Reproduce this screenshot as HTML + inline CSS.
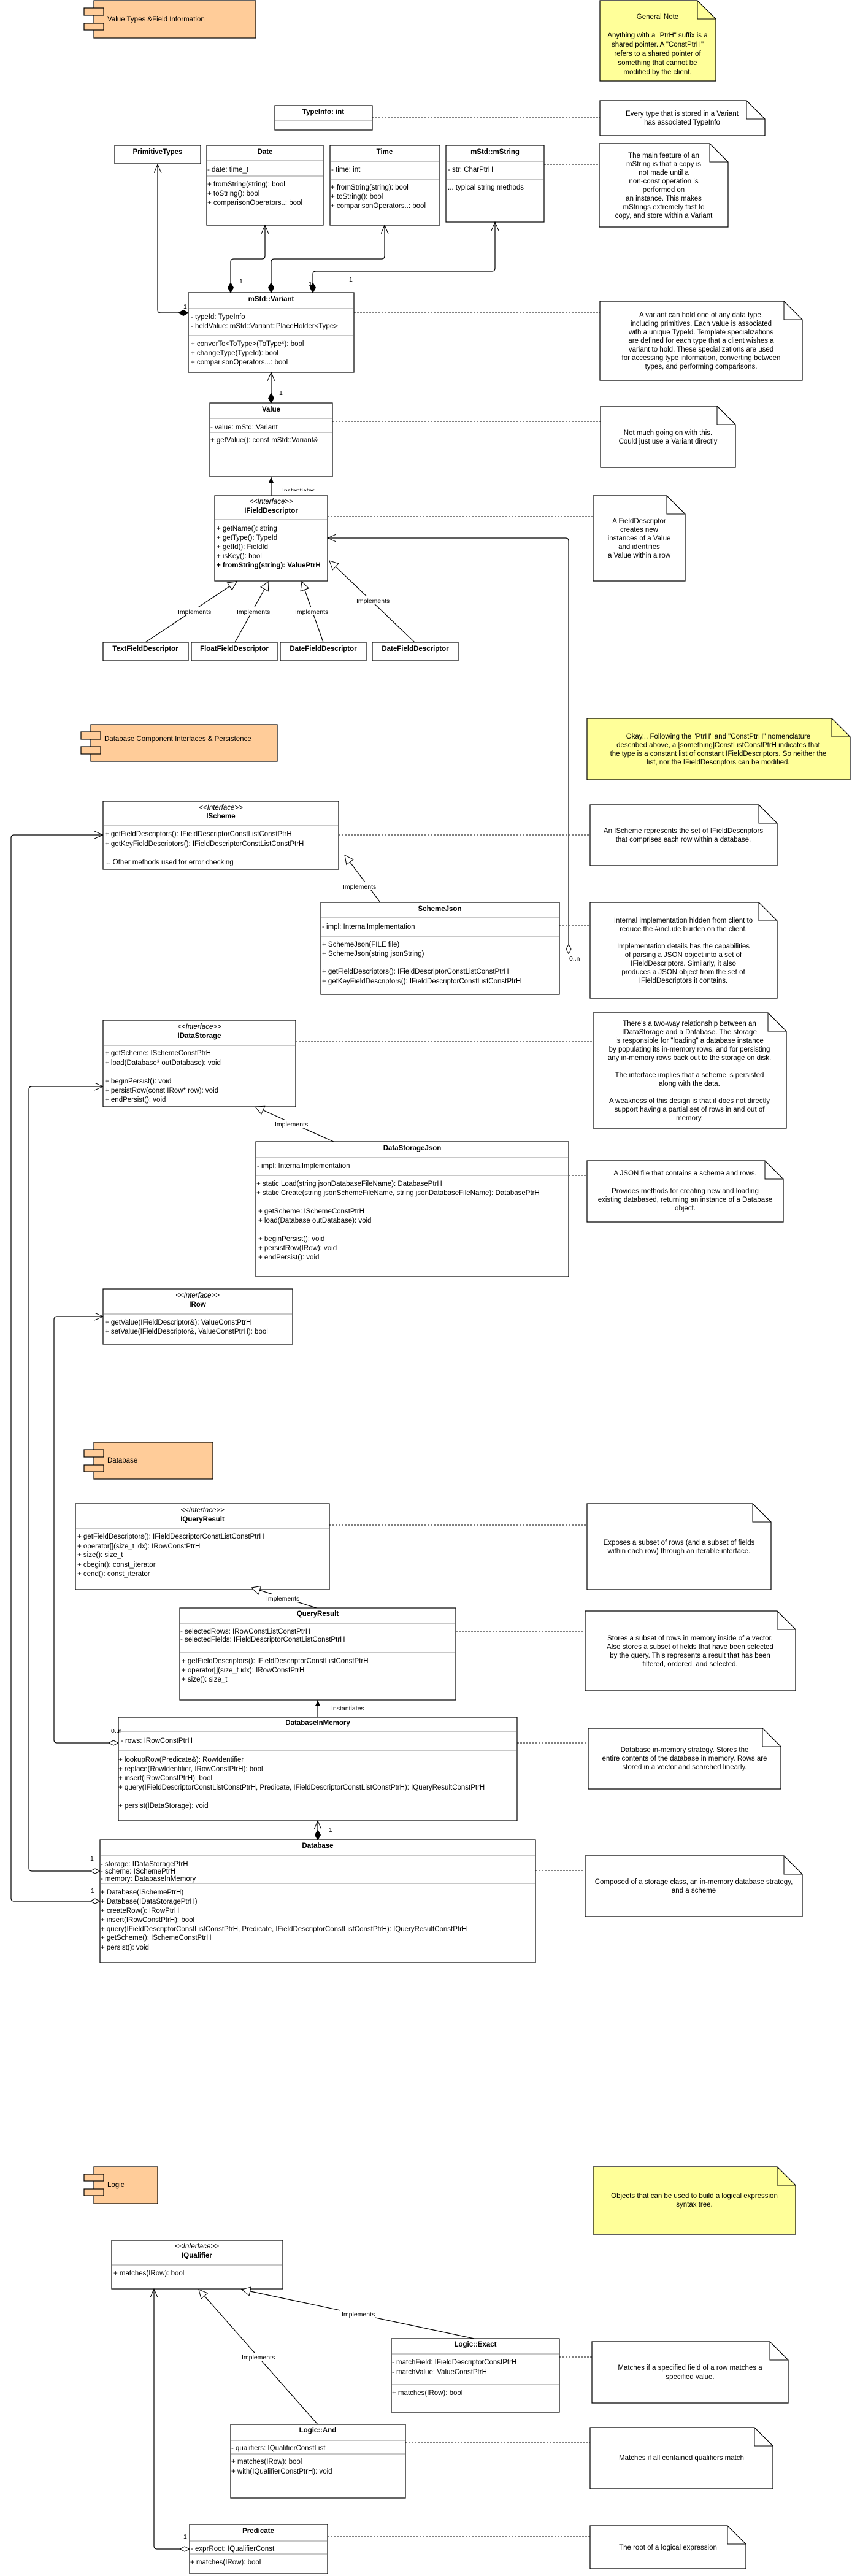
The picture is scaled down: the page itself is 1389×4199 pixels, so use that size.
<!DOCTYPE html>
<html><head><meta charset="utf-8"><style>
html,body{margin:0;padding:0;background:#fff;}
svg{display:block;font-family:"Liberation Sans",Arial,sans-serif;font-size:11.5px;}
.b{fill:#fff;stroke:#000;stroke-width:1.2}
.s{stroke:#c8c8c8;stroke-width:2}
.t{font-weight:bold;text-anchor:middle}
.c{text-anchor:middle}
.i{font-style:italic;text-anchor:middle}
.n{fill:#fff;stroke:#000;stroke-width:1.2}
.y{fill:#ffff99;stroke:#000;stroke-width:1.2}
.f{fill:none;stroke:#000;stroke-width:1}
.d{stroke:#000;stroke-width:1;stroke-dasharray:3,2;fill:none}
.l{fill:none;stroke:#000;stroke-width:1.2}
.o{fill:#ffcc99;stroke:#000;stroke-width:1.2}
.sm{font-size:10.5px}
</style></head><body>
<svg width="1389" height="4199" viewBox="0 0 1389 4199" xmlns="http://www.w3.org/2000/svg">
<defs>
<marker id="open" markerUnits="userSpaceOnUse" markerWidth="16" markerHeight="14" refX="14" refY="6" orient="auto"><path d="M0,0 L14,6 L0,12" fill="none" stroke="#000" stroke-width="1"/></marker>
<marker id="tri" markerUnits="userSpaceOnUse" markerWidth="18" markerHeight="18" refX="15" refY="8" orient="auto"><path d="M1,1 L15,8 L1,15 z" fill="#fff" stroke="#000" stroke-width="1"/></marker>
<marker id="ft" markerUnits="userSpaceOnUse" markerWidth="12" markerHeight="10" refX="10" refY="4" orient="auto"><path d="M0,0 L10,4 L0,8 z" fill="#000"/></marker>
<marker id="dia" markerUnits="userSpaceOnUse" markerWidth="18" markerHeight="12" refX="0" refY="5" orient="auto"><path d="M0,5 L8,0.5 L16,5 L8,9.5 z" fill="#000" stroke="#000"/></marker>
<marker id="odia" markerUnits="userSpaceOnUse" markerWidth="18" markerHeight="12" refX="0" refY="5" orient="auto"><path d="M0.5,5 L8,1 L15.5,5 L8,9 z" fill="#fff" stroke="#000"/></marker>
</defs>

<!-- Component: Value Types -->
<rect class="o" x="153" y="1" width="264" height="61"/>
<rect class="o" x="137" y="13" width="32" height="12"/>
<rect class="o" x="137" y="38" width="32" height="11"/>
<text x="175" y="35">Value Types &amp;Field Information</text>

<!-- General Note -->
<path class="y" d="M978,1 H1137 L1167,31 V132 H978 Z"/><path class="f" d="M1137,1 V31 H1167"/>
<g class="c"><text x="1072" y="31">General Note</text>
<text x="1072" y="61">Anything with a "PtrH" suffix is a</text>
<text x="1072" y="76">shared pointer. A "ConstPtrH"</text>
<text x="1072" y="91">refers to a shared pointer of</text>
<text x="1072" y="106">something that cannot be</text>
<text x="1072" y="121">modified by the client.</text></g>

<!-- TypeInfo -->
<rect class="b" x="448" y="172" width="159" height="40"/><line class="s" x1="449" y1="197" x2="606" y2="197"/>
<text class="t" x="527" y="186">TypeInfo: int</text>
<line class="d" x1="607" y1="192" x2="978" y2="192"/>
<path class="n" d="M978,164 H1217 L1247,194 V221 H978 Z"/><path class="f" d="M1217,164 V194 H1247"/>
<text class="c" x="1112" y="189">Every type that is stored in a Variant</text>
<text class="c" x="1112" y="203">has associated TypeInfo</text>

<!-- PrimitiveTypes -->
<rect class="b" x="187" y="237" width="140" height="30"/>
<text class="t" x="257" y="251">PrimitiveTypes</text>

<!-- Date -->
<rect class="b" x="337" y="237" width="190" height="130"/>
<line class="s" x1="338" y1="262" x2="526" y2="262"/><line class="s" x1="338" y1="287" x2="526" y2="287"/>
<text class="t" x="432" y="251">Date</text>
<text x="338" y="280">- date: time_t</text>
<text x="338" y="304">+ fromString(string): bool</text>
<text x="338" y="319">+ toString(): bool</text>
<text x="338" y="334">+ comparisonOperators..: bool</text>

<!-- Time -->
<rect class="b" x="538" y="237" width="179" height="130"/>
<line class="s" x1="539" y1="263" x2="716" y2="263"/><line class="s" x1="539" y1="292" x2="716" y2="292"/>
<text class="t" x="627" y="251">Time</text>
<text x="540" y="280">- time: int</text>
<text x="539" y="309">+ fromString(string): bool</text>
<text x="539" y="324">+ toString(): bool</text>
<text x="539" y="339">+ comparisonOperators..: bool</text>

<!-- mString -->
<rect class="b" x="727" y="237" width="160" height="125"/>
<line class="s" x1="728" y1="263" x2="886" y2="263"/><line class="s" x1="728" y1="292" x2="886" y2="292"/>
<text class="t" x="807" y="251">mStd::mString</text>
<text x="730" y="280">- str: CharPtrH</text>
<text x="730" y="309">... typical string methods</text>
<line class="d" x1="887" y1="268" x2="977" y2="268"/>
<path class="n" d="M977,234 H1157 L1187,264 V370 H977 Z"/><path class="f" d="M1157,234 V264 H1187"/>
<g class="c"><text x="1082" y="257">The main feature of an</text>
<text x="1082" y="271">mString is that a copy is</text>
<text x="1082" y="285">not made until a</text>
<text x="1082" y="299">non-const operation is</text>
<text x="1082" y="313">performed on</text>
<text x="1082" y="327">an instance. This makes</text>
<text x="1082" y="341">mStrings extremely fast to</text>
<text x="1082" y="355">copy, and store within a Variant</text></g>

<!-- connectors to Variant -->
<path class="l" d="M307,510 H262 Q257,510 257,505 V268" marker-start="url(#dia)" marker-end="url(#open)"/>
<path class="l" d="M376,477 V427 Q376,422 381,422 H427 Q432,422 432,417 V367" marker-start="url(#dia)" marker-end="url(#open)"/>
<path class="l" d="M442,477 V427 Q442,422 447,422 H622 Q627,422 627,417 V367" marker-start="url(#dia)" marker-end="url(#open)"/>
<path class="l" d="M510,477 V447 Q510,442 515,442 H802 Q807,442 807,437 V362" marker-start="url(#dia)" marker-end="url(#open)"/>
<g class="sm"><text x="299" y="503">1</text><text x="390" y="462">1</text><text x="503" y="466">1</text><text x="569" y="459">1</text></g>

<!-- Variant -->
<rect class="b" x="307" y="477" width="270" height="130"/>
<line class="s" x1="308" y1="503" x2="576" y2="503"/><line class="s" x1="308" y1="547" x2="576" y2="547"/>
<text class="t" x="442" y="491">mStd::Variant</text>
<text x="311" y="520">- typeId: TypeInfo</text>
<text x="311" y="535">- heldValue: mStd::Variant::PlaceHolder&lt;Type&gt;</text>
<text x="311" y="564">+ converTo&lt;ToType&gt;(ToType*): bool</text>
<text x="311" y="579">+ changeType(TypeId): bool</text>
<text x="311" y="594">+ comparisonOperators...: bool</text>
<line class="d" x1="577" y1="510" x2="978" y2="510"/>
<path class="n" d="M978,491 H1278 L1308,521 V620 H978 Z"/><path class="f" d="M1278,491 V521 H1308"/>
<g class="c"><text x="1143" y="517">A variant can hold one of any data type,</text>
<text x="1143" y="531">including primitives. Each value is associated</text>
<text x="1143" y="545">with a unique TypeId. Template specializations</text>
<text x="1143" y="559">are defined for each type that a client wishes a</text>
<text x="1143" y="573">variant to hold. These specializations are used</text>
<text x="1143" y="587">for accessing type information, converting between</text>
<text x="1143" y="601">types, and performing comparisons.</text></g>

<!-- Value -->
<path class="l" d="M442,657 V607" marker-start="url(#dia)" marker-end="url(#open)"/>
<text class="sm" x="455" y="644">1</text>
<rect class="b" x="342" y="657" width="200" height="120"/>
<line class="s" x1="343" y1="682" x2="541" y2="682"/><line class="s" x1="343" y1="705" x2="541" y2="705"/>
<text class="t" x="442" y="671">Value</text>
<text x="343" y="700">- value: mStd::Variant</text>
<text x="343" y="721">+ getValue(): const mStd::Variant&amp;</text>
<line class="d" x1="542" y1="687" x2="979" y2="687"/>
<path class="n" d="M979,662 H1169 L1199,692 V762 H979 Z"/><path class="f" d="M1169,662 V692 H1199"/>
<text class="c" x="1089" y="709">Not much going on with this.</text>
<text class="c" x="1089" y="723">Could just use a Variant directly</text>

<!-- Instantiates -->
<path class="l" d="M442,808 V777" marker-end="url(#ft)"/>
<rect x="458" y="792" width="58" height="14" fill="#fff"/>
<text class="sm" x="460" y="803">Instantiates</text>

<!-- IFieldDescriptor -->
<rect class="b" x="350" y="808" width="184" height="139"/>
<rect x="458" y="801" width="58" height="6" fill="#fff"/>
<line class="s" x1="351" y1="847" x2="533" y2="847"/>
<text class="i" x="442" y="821">&lt;&lt;Interface&gt;&gt;</text>
<text class="t" x="442" y="836">IFieldDescriptor</text>
<text x="353" y="865">+ getName(): string</text>
<text x="353" y="880">+ getType(): TypeId</text>
<text x="353" y="895">+ getId(): FieldId</text>
<text x="353" y="910">+ isKey(): bool</text>
<text x="353" y="925" font-weight="bold">+ fromString(string): ValuePtrH</text>
<line class="d" x1="534" y1="842" x2="967" y2="842"/>
<path class="n" d="M967,808 H1087 L1117,838 V947 H967 Z"/><path class="f" d="M1087,808 V838 H1117"/>
<g class="c"><text x="1042" y="853">A FieldDescriptor</text>
<text x="1042" y="867">creates new</text>
<text x="1042" y="881">instances of a Value</text>
<text x="1042" y="895">and identifies</text>
<text x="1042" y="909">a Value within a row</text></g>

<!-- Implementations of IFD -->
<path class="l" d="M237,1047 L386,948" marker-end="url(#tri)"/>
<path class="l" d="M383,1047 L438,948" marker-end="url(#tri)"/>
<path class="l" d="M527,1047 L492,948" marker-end="url(#tri)"/>
<path class="l" d="M676,1047 L537,914" marker-end="url(#tri)"/>
<g class="sm"><rect x="288" y="990" width="56" height="13" fill="#fff"/><text x="290" y="1001">Implements</text>
<rect x="384" y="990" width="56" height="13" fill="#fff"/><text x="386" y="1001">Implements</text>
<rect x="479" y="990" width="56" height="13" fill="#fff"/><text x="481" y="1001">Implements</text>
<rect x="579" y="972" width="56" height="13" fill="#fff"/><text x="581" y="983">Implements</text></g>
<rect class="b" x="168" y="1047" width="139" height="30"/><text class="t" x="237" y="1061">TextFieldDescriptor</text>
<rect class="b" x="312" y="1047" width="140" height="30"/><text class="t" x="382" y="1061">FloatFieldDescriptor</text>
<rect class="b" x="457" y="1047" width="140" height="30"/><text class="t" x="527" y="1061">DateFieldDescriptor</text>
<rect class="b" x="607" y="1047" width="140" height="30"/><text class="t" x="677" y="1061">DateFieldDescriptor</text>

<!-- Component DB Interfaces -->
<rect class="o" x="148" y="1181" width="304" height="60"/>
<rect class="o" x="132" y="1193" width="32" height="12"/>
<rect class="o" x="132" y="1217" width="32" height="12"/>
<text x="170" y="1208">Database Component Interfaces &amp; Persistence</text>
<path class="y" d="M957,1171 H1356 L1386,1201 V1271 H957 Z"/><path class="f" d="M1356,1171 V1201 H1386"/>
<g class="c"><text x="1171" y="1204">Okay... Following the "PtrH" and "ConstPtrH" nomenclature</text>
<text x="1171" y="1218">described above, a [something]ConstListConstPtrH indicates that</text>
<text x="1171" y="1232">the type is a constant list of constant IFieldDescriptors. So neither the</text>
<text x="1171" y="1246">list, nor the IFieldDescriptors can be modified.</text></g>

<!-- long left connectors -->
<path class="l" d="M163,3099 H23 Q18,3099 18,3094 V1366 Q18,1361 23,1361 H168" marker-start="url(#odia)" marker-end="url(#open)"/>
<path class="l" d="M163,3050 H52 Q47,3050 47,3045 V1776 Q47,1771 52,1771 H168" marker-start="url(#odia)" marker-end="url(#open)"/>
<path class="l" d="M193,2841 H93 Q88,2841 88,2836 V2151 Q88,2146 93,2146 H168" marker-start="url(#odia)" marker-end="url(#open)"/>
<path class="l" d="M927,1555 V882 Q927,877 922,877 H534" marker-start="url(#odia)" marker-end="url(#open)"/>
<text class="sm" x="928" y="1566">0..n</text>

<!-- IScheme -->
<rect class="b" x="168" y="1306" width="384" height="111"/>
<line class="s" x1="169" y1="1346" x2="551" y2="1346"/>
<text class="i" x="360" y="1320">&lt;&lt;Interface&gt;&gt;</text>
<text class="t" x="360" y="1334">IScheme</text>
<text x="171" y="1363">+ getFieldDescriptors(): IFieldDescriptorConstListConstPtrH</text>
<text x="171" y="1379">+ getKeyFieldDescriptors(): IFieldDescriptorConstListConstPtrH</text>
<text x="171" y="1409">... Other methods used for error checking</text>
<line class="d" x1="552" y1="1361" x2="962" y2="1361"/>
<path class="n" d="M962,1312 H1237 L1267,1342 V1411 H962 Z"/><path class="f" d="M1237,1312 V1342 H1267"/>
<text class="c" x="1114" y="1358">An IScheme represents the set of IFieldDescriptors</text>
<text class="c" x="1114" y="1372">that comprises each row within a database.</text>

<!-- SchemeJson -->
<path class="l" d="M620,1471 L562,1394" marker-end="url(#tri)"/>
<rect x="557" y="1438" width="56" height="13" fill="#fff"/><text class="sm" x="559" y="1449">Implements</text>
<rect class="b" x="523" y="1471" width="389" height="150"/>
<line class="s" x1="524" y1="1496" x2="911" y2="1496"/><line class="s" x1="524" y1="1526" x2="911" y2="1526"/>
<text class="t" x="717" y="1485">SchemeJson</text>
<text x="525" y="1514">- impl: InternalImplementation</text>
<text x="525" y="1543">+ SchemeJson(FILE file)</text>
<text x="525" y="1558">+ SchemeJson(string jsonString)</text>
<text x="525" y="1587">+ getFieldDescriptors(): IFieldDescriptorConstListConstPtrH</text>
<text x="525" y="1603">+ getKeyFieldDescriptors(): IFieldDescriptorConstListConstPtrH</text>
<line class="d" x1="912" y1="1509" x2="962" y2="1509"/>
<path class="n" d="M962,1471 H1237 L1267,1501 V1627 H962 Z"/><path class="f" d="M1237,1471 V1501 H1267"/>
<g class="c"><text x="1114" y="1504">Internal implementation hidden from client to</text>
<text x="1114" y="1518">reduce the #include burden on the client.</text>
<text x="1114" y="1546">Implementation details has the capabilities</text>
<text x="1114" y="1560">of parsing a JSON object into a set of</text>
<text x="1114" y="1574">IFieldDescriptors. Similarly, it also</text>
<text x="1114" y="1588">produces a JSON object from the set of</text>
<text x="1114" y="1602">IFieldDescriptors it contains.</text></g>

<!-- IDataStorage -->
<rect class="b" x="168" y="1663" width="314" height="141"/>
<line class="s" x1="169" y1="1704" x2="481" y2="1704"/>
<text class="i" x="325" y="1677">&lt;&lt;Interface&gt;&gt;</text>
<text class="t" x="325" y="1692">IDataStorage</text>
<text x="171" y="1720">+ getScheme: ISchemeConstPtrH</text>
<text x="171" y="1736">+ load(Database* outDatabase): void</text>
<text x="171" y="1766">+ beginPersist(): void</text>
<text x="171" y="1781">+ persistRow(const IRow* row): void</text>
<text x="171" y="1796">+ endPersist(): void</text>
<line class="d" x1="482" y1="1698" x2="967" y2="1698"/>
<path class="n" d="M967,1651 H1252 L1282,1681 V1839 H967 Z"/><path class="f" d="M1252,1651 V1681 H1282"/>
<g class="c"><text x="1124" y="1672">There's a two-way relationship between an</text>
<text x="1124" y="1686">IDataStorage and a Database. The storage</text>
<text x="1124" y="1700">is responsible for "loading" a database instance</text>
<text x="1124" y="1714">by populating its in-memory rows, and for persisting</text>
<text x="1124" y="1728">any in-memory rows back out to the storage on disk.</text>
<text x="1124" y="1756">The interface implies that a scheme is persisted</text>
<text x="1124" y="1770">along with the data.</text>
<text x="1124" y="1798">A weakness of this design is that it does not directly</text>
<text x="1124" y="1812">support having a partial set of rows in and out of</text>
<text x="1124" y="1826">memory.</text></g>

<!-- DataStorageJson -->
<path class="l" d="M544,1861 L416,1804" marker-end="url(#tri)"/>
<rect x="446" y="1825" width="56" height="13" fill="#fff"/><text class="sm" x="448" y="1836">Implements</text>
<rect class="b" x="417" y="1861" width="510" height="220"/>
<line class="s" x1="418" y1="1887" x2="926" y2="1887"/><line class="s" x1="418" y1="1916" x2="926" y2="1916"/>
<text class="t" x="672" y="1875">DataStorageJson</text>
<text x="419" y="1904">- impl: InternalImplementation</text>
<text x="418" y="1933">+ static Load(string jsonDatabaseFileName): DatabasePtrH</text>
<text x="418" y="1948">+ static Create(string jsonSchemeFileName, string jsonDatabaseFileName): DatabasePtrH</text>
<text x="421" y="1978">+ getScheme: ISchemeConstPtrH</text>
<text x="421" y="1993">+ load(Database outDatabase): void</text>
<text x="421" y="2023">+ beginPersist(): void</text>
<text x="421" y="2038">+ persistRow(IRow): void</text>
<text x="421" y="2053">+ endPersist(): void</text>
<line class="d" x1="927" y1="1916" x2="957" y2="1916"/>
<path class="n" d="M957,1892 H1247 L1277,1922 V1992 H957 Z"/><path class="f" d="M1247,1892 V1922 H1277"/>
<g class="c"><text x="1117" y="1916">A JSON file that contains a scheme and rows.</text>
<text x="1117" y="1945">Provides methods for creating new and loading</text>
<text x="1117" y="1959">existing databased, returning an instance of a Database</text>
<text x="1117" y="1973">object.</text></g>

<!-- IRow -->
<rect class="b" x="168" y="2101" width="309" height="90"/>
<line class="s" x1="169" y1="2142" x2="476" y2="2142"/>
<text class="i" x="322" y="2115">&lt;&lt;Interface&gt;&gt;</text>
<text class="t" x="322" y="2130">IRow</text>
<text x="171" y="2159">+ getValue(IFieldDescriptor&amp;): ValueConstPtrH</text>
<text x="171" y="2174">+ setValue(IFieldDescriptor&amp;, ValueConstPtrH): bool</text>

<!-- Database component -->
<rect class="o" x="153" y="2351" width="194" height="60"/>
<rect class="o" x="137" y="2363" width="32" height="12"/>
<rect class="o" x="137" y="2388" width="32" height="11"/>
<text x="175" y="2384">Database</text>

<!-- IQueryResult -->
<rect class="b" x="123" y="2451" width="414" height="140"/>
<line class="s" x1="124" y1="2492" x2="536" y2="2492"/>
<text class="i" x="330" y="2465">&lt;&lt;Interface&gt;&gt;</text>
<text class="t" x="330" y="2480">IQueryResult</text>
<text x="126" y="2508">+ getFieldDescriptors(): IFieldDescriptorConstListConstPtrH</text>
<text x="126" y="2524">+ operator[](size_t idx): IRowConstPtrH</text>
<text x="126" y="2538">+ size(): size_t</text>
<text x="126" y="2554">+ cbegin(): const_iterator</text>
<text x="126" y="2569">+ cend(): const_iterator</text>
<line class="d" x1="537" y1="2486" x2="957" y2="2486"/>
<path class="n" d="M957,2451 H1227 L1257,2481 V2591 H957 Z"/><path class="f" d="M1227,2451 V2481 H1257"/>
<text class="c" x="1107" y="2518">Exposes a subset of rows (and a subset of fields</text>
<text class="c" x="1107" y="2532">within each row) through an iterable interface.</text>

<!-- QueryResult -->
<path class="l" d="M516,2621 L410,2588" marker-end="url(#tri)"/>
<rect x="432" y="2598" width="56" height="13" fill="#fff"/><text class="sm" x="434" y="2609">Implements</text>
<rect class="b" x="293" y="2621" width="450" height="150"/>
<line class="s" x1="294" y1="2647" x2="742" y2="2647"/><line class="s" x1="294" y1="2694" x2="742" y2="2694"/>
<text class="t" x="518" y="2634">QueryResult</text>
<text x="294" y="2663">- selectedRows: IRowConstListConstPtrH</text>
<text x="294" y="2676">- selectedFields: IFieldDescriptorConstListConstPtrH</text>
<text x="296" y="2711">+ getFieldDescriptors(): IFieldDescriptorConstListConstPtrH</text>
<text x="296" y="2726">+ operator[](size_t idx): IRowConstPtrH</text>
<text x="296" y="2741">+ size(): size_t</text>
<line class="d" x1="743" y1="2659" x2="954" y2="2659"/>
<path class="n" d="M954,2626 H1267 L1297,2656 V2756 H954 Z"/><path class="f" d="M1267,2626 V2656 H1297"/>
<g class="c"><text x="1125" y="2674">Stores a subset of rows in memory inside of a vector.</text>
<text x="1125" y="2688">Also stores a subset of fields that have been selected</text>
<text x="1125" y="2702">by the query. This represents a result that has been</text>
<text x="1125" y="2716">filtered, ordered, and selected.</text></g>

<!-- Instantiates QR -->
<path class="l" d="M518,2799 V2771" marker-end="url(#ft)"/>
<text class="sm" x="540" y="2788">Instantiates</text>

<!-- DatabaseInMemory -->
<rect class="b" x="193" y="2799" width="650" height="169"/>
<line class="s" x1="194" y1="2823" x2="842" y2="2823"/><line class="s" x1="194" y1="2854" x2="842" y2="2854"/>
<text class="t" x="518" y="2812">DatabaseInMemory</text>
<text class="sm" x="181" y="2825">0..n</text>
<text x="197" y="2841">- rows: IRowConstPtrH</text>
<text x="193" y="2872">+ lookupRow(Predicate&amp;): RowIdentifier</text>
<text x="193" y="2887">+ replace(RowIdentifier, IRowConstPtrH): bool</text>
<text x="193" y="2902">+ insert(IRowConstPtrH): bool</text>
<text x="193" y="2917">+ query(IFieldDescriptorConstListConstPtrH, Predicate, IFieldDescriptorConstListConstPtrH): IQueryResultConstPtrH</text>
<text x="193" y="2947">+ persist(IDataStorage): void</text>
<line class="d" x1="843" y1="2841" x2="959" y2="2841"/>
<path class="n" d="M959,2817 H1243 L1273,2847 V2916 H959 Z"/><path class="f" d="M1243,2817 V2847 H1273"/>
<g class="c"><text x="1116" y="2856">Database in-memory strategy. Stores the</text>
<text x="1116" y="2870">entire contents of the database in memory. Rows are</text>
<text x="1116" y="2884">stored in a vector and searched linearly.</text></g>

<!-- Database -->
<path class="l" d="M518,2999 V2968" marker-start="url(#dia)" marker-end="url(#open)"/>
<text class="sm" x="536" y="2986">1</text>
<rect class="b" x="163" y="2999" width="710" height="200"/>
<line class="s" x1="164" y1="3024" x2="872" y2="3024"/><line class="s" x1="164" y1="3070" x2="872" y2="3070"/>
<text class="t" x="518" y="3012">Database</text>
<text class="sm" x="147" y="3033">1</text>
<text class="sm" x="148" y="3085">1</text>
<text x="164" y="3042">- storage: IDataStoragePtrH</text>
<text x="164" y="3054">- scheme: ISchemePtrH</text>
<text x="164" y="3066">- memory: DatabaseInMemory</text>
<text x="164" y="3088">+ Database(ISchemePtrH)</text>
<text x="164" y="3103">+ Database(IDataStoragePtrH)</text>
<text x="164" y="3118">+ createRow(): IRowPtrH</text>
<text x="164" y="3133">+ insert(IRowConstPtrH): bool</text>
<text x="164" y="3148">+ query(IFieldDescriptorConstListConstPtrH, Predicate, IFieldDescriptorConstListConstPtrH): IQueryResultConstPtrH</text>
<text x="164" y="3162">+ getScheme(): ISchemeConstPtrH</text>
<text x="164" y="3178">+ persist(): void</text>
<line class="d" x1="873" y1="3049" x2="954" y2="3049"/>
<path class="n" d="M954,3025 H1278 L1308,3055 V3124 H954 Z"/><path class="f" d="M1278,3025 V3055 H1308"/>
<text class="c" x="1131" y="3071">Composed of a storage class, an in-memory database strategy,</text>
<text class="c" x="1131" y="3085">and a scheme</text>

<!-- Logic component -->
<rect class="o" x="153" y="3532" width="104" height="60"/>
<rect class="o" x="137" y="3544" width="32" height="11"/>
<rect class="o" x="137" y="3568" width="32" height="11"/>
<text x="175" y="3565">Logic</text>
<path class="y" d="M967,3532 H1267 L1297,3562 V3642 H967 Z"/><path class="f" d="M1267,3532 V3562 H1297"/>
<text class="c" x="1132" y="3583">Objects that can be used to build a logical expression</text>
<text class="c" x="1132" y="3597">syntax tree.</text>

<!-- IQualifier -->
<rect class="b" x="182" y="3652" width="279" height="79"/>
<line class="s" x1="183" y1="3692" x2="460" y2="3692"/>
<text class="i" x="321" y="3665">&lt;&lt;Interface&gt;&gt;</text>
<text class="t" x="321" y="3680">IQualifier</text>
<text x="185" y="3709">+ matches(IRow): bool</text>

<!-- Exact -->
<path class="l" d="M773,3812 L394,3732" marker-end="url(#tri)"/>
<rect x="555" y="3765" width="56" height="13" fill="#fff"/><text class="sm" x="557" y="3776">Implements</text>
<rect class="b" x="638" y="3812" width="274" height="120"/>
<line class="s" x1="639" y1="3837" x2="911" y2="3837"/><line class="s" x1="639" y1="3887" x2="911" y2="3887"/>
<text class="t" x="775" y="3825">Logic::Exact</text>
<text x="639" y="3854">- matchField: IFieldDescriptorConstPtrH</text>
<text x="639" y="3870">- matchValue: ValueConstPtrH</text>
<text x="639" y="3904">+ matches(IRow): bool</text>
<line class="d" x1="912" y1="3842" x2="965" y2="3842"/>
<path class="n" d="M965,3817 H1255 L1285,3847 V3917 H965 Z"/><path class="f" d="M1255,3817 V3847 H1285"/>
<text class="c" x="1125" y="3863">Matches if a specified field of a row matches a</text>
<text class="c" x="1125" y="3878">specified value.</text>

<!-- And -->
<path class="l" d="M518,3952 L324,3732" marker-end="url(#tri)"/>
<rect x="392" y="3835" width="56" height="13" fill="#fff"/><text class="sm" x="394" y="3846">Implements</text>
<rect class="b" x="376" y="3952" width="285" height="120"/>
<line class="s" x1="377" y1="3978" x2="660" y2="3978"/><line class="s" x1="377" y1="4000" x2="660" y2="4000"/>
<text class="t" x="518" y="3965">Logic::And</text>
<text x="377" y="3994">- qualifiers: IQualifierConstList</text>
<text x="377" y="4016">+ matches(IRow): bool</text>
<text x="377" y="4032">+ with(IQualifierConstPtrH): void</text>
<line class="d" x1="661" y1="3982" x2="962" y2="3982"/>
<path class="n" d="M962,3957 H1230 L1260,3987 V4057 H962 Z"/><path class="f" d="M1230,3957 V3987 H1260"/>
<text class="c" x="1111" y="4010">Matches if all contained qualifiers match</text>

<!-- Predicate -->
<path class="l" d="M309,4155 H256 Q251,4155 251,4150 V3731" marker-start="url(#odia)" marker-end="url(#open)"/>
<text class="sm" x="299" y="4138">1</text>
<rect class="b" x="309" y="4115" width="225" height="80"/>
<line class="s" x1="310" y1="4142" x2="533" y2="4142"/><line class="s" x1="310" y1="4163" x2="533" y2="4163"/>
<text class="t" x="421" y="4129">Predicate</text>
<text x="311" y="4158">- exprRoot: IQualifierConst</text>
<text x="310" y="4180">+ matches(IRow): bool</text>
<line class="d" x1="534" y1="4135" x2="962" y2="4135"/>
<path class="n" d="M962,4117 H1186 L1216,4147 V4187 H962 Z"/><path class="f" d="M1186,4117 V4147 H1216"/>
<text class="c" x="1089" y="4156">The root of a logical expression</text>
</svg>
</body></html>
